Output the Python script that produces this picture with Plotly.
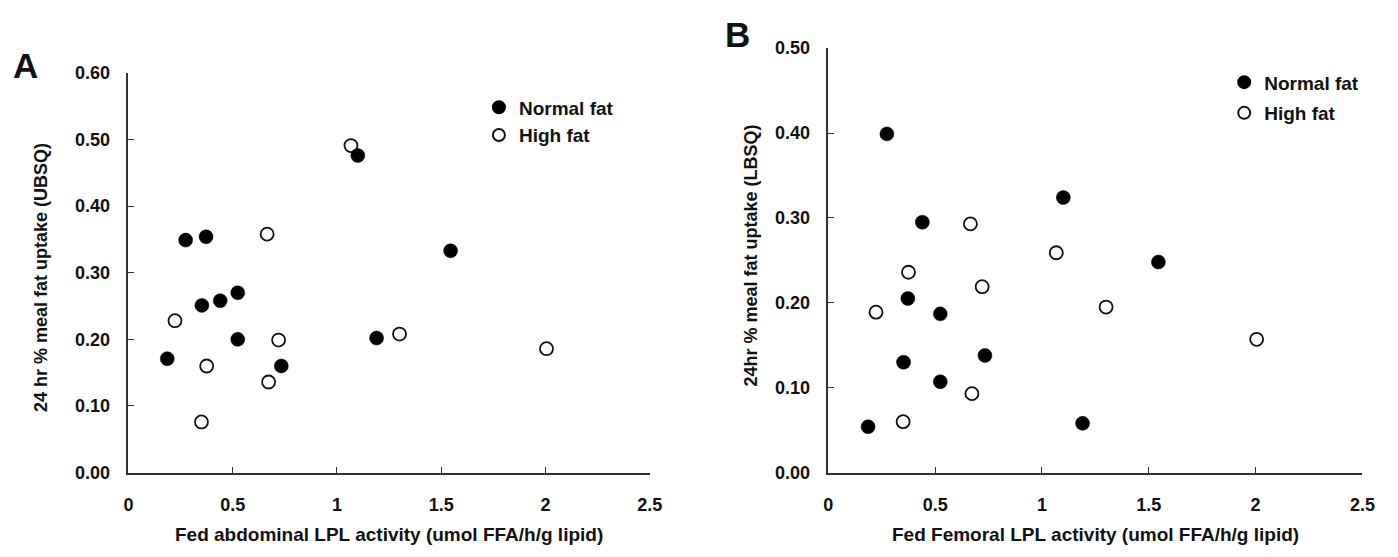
import plotly.graph_objects as go

W, H = 1398, 557
OFF = 8  # default page margin of the written html

# Fed LPL activity (x positions as plotted; identical in both panels)
lpl_normal = [0.186, 0.274, 0.352, 0.372, 0.44, 0.524, 0.524, 0.733, 1.10, 1.19, 1.545]
lpl_high = [0.223, 0.35, 0.375, 0.665, 0.672, 0.72, 1.067, 1.30, 2.005]

# Panel A: 24 hr % meal fat uptake (UBSQ)
ubsq_normal = [0.171, 0.349, 0.251, 0.354, 0.258, 0.270, 0.200, 0.160, 0.476, 0.202, 0.333]
ubsq_high = [0.228, 0.076, 0.160, 0.358, 0.136, 0.199, 0.491, 0.208, 0.186]

# Panel B: 24hr % meal fat uptake (LBSQ)
lbsq_normal = [0.054, 0.399, 0.130, 0.205, 0.295, 0.187, 0.107, 0.138, 0.324, 0.058, 0.248]
lbsq_high = [0.189, 0.060, 0.236, 0.293, 0.093, 0.219, 0.259, 0.195, 0.157]

x_ticks = [0, 0.5, 1, 1.5, 2, 2.5]
x_ticklabels = ["0", "0.5", "1", "1.5", "2", "2.5"]

FONT = "Liberation Sans"
INK = "#111111"
AX = "#333333"


def px(x):
    return (x - OFF) / W


def py(y):
    return 1 - (y - OFF) / H


open_marker = dict(symbol="circle", size=13, color="white", line=dict(color=INK, width=1.8))
fill_marker = dict(symbol="circle", size=14, color="#000000", line=dict(color="#000000", width=0.5))

fig = go.Figure()
fig.add_trace(go.Scatter(x=lpl_high, y=ubsq_high, mode="markers", name="High fat",
                         marker=open_marker, xaxis="x", yaxis="y", legend="legend",
                         legendgroup="a_high", legendrank=2))
fig.add_trace(go.Scatter(x=lpl_normal, y=ubsq_normal, mode="markers", name="Normal fat",
                         marker=fill_marker, xaxis="x", yaxis="y", legend="legend",
                         legendgroup="a_norm", legendrank=1))
fig.add_trace(go.Scatter(x=lpl_high, y=lbsq_high, mode="markers", name="High fat",
                         marker=open_marker, xaxis="x2", yaxis="y2", legend="legend2",
                         legendgroup="b_high", legendrank=2))
fig.add_trace(go.Scatter(x=lpl_normal, y=lbsq_normal, mode="markers", name="Normal fat",
                         marker=fill_marker, xaxis="x2", yaxis="y2", legend="legend2",
                         legendgroup="b_norm", legendrank=1))

tickfont = dict(family=FONT, size=18, color=INK, weight="bold")
common_x = dict(range=[0, 2.5], tickvals=x_ticks, ticktext=x_ticklabels, showline=True,
                linecolor=AX, linewidth=1.6, ticks="inside", ticklen=6, tickwidth=1.4,
                tickcolor=AX, showgrid=False, zeroline=False, tickfont=tickfont,
                ticklabelstandoff=15, fixedrange=True)
common_y = dict(showline=True, linecolor=AX, linewidth=1.6, ticks="inside", ticklen=6,
                tickwidth=1.4, tickcolor=AX, showgrid=False, zeroline=False,
                tickfont=tickfont, tickformat=".2f", dtick=0.1, tick0=0,
                ticklabelstandoff=13, fixedrange=True)

legend_font = dict(family=FONT, size=19, color=INK, weight="bold")

fig.update_layout(
    width=W, height=H,
    margin=dict(l=0, r=0, t=0, b=0),
    paper_bgcolor="white", plot_bgcolor="white",
    font=dict(family=FONT, color=INK, weight="bold"),
    xaxis=dict(domain=[px(125), px(653)], anchor="y", **common_x),
    yaxis=dict(domain=[py(479.5), py(65)], anchor="x", range=[0, 0.6], **common_y),
    xaxis2=dict(domain=[px(834), px(1375)], anchor="y2", **common_x),
    yaxis2=dict(domain=[py(479.5), py(39.3)], anchor="x2", range=[0, 0.5], **common_y),
    legend=dict(x=px(480), y=py(81), xanchor="left", yanchor="top", font=legend_font,
                bgcolor="rgba(0,0,0,0)", itemsizing="constant", tracegroupgap=0),
    legend2=dict(x=px(1235), y=py(55), xanchor="left", yanchor="top", font=legend_font,
                 bgcolor="rgba(0,0,0,0)", itemsizing="constant", tracegroupgap=3),
    showlegend=True,
)

ann = [
    dict(text="A", x=px(21), y=py(57), size=35),
    dict(text="B", x=px(742), y=py(25), size=35),
    dict(text="Fed abdominal LPL activity (umol FFA/h/g lipid)", x=px(389), y=py(544), size=19),
    dict(text="Fed Femoral LPL activity (umol FFA/h/g lipid)", x=px(1105), y=py(544), size=19),
]
for a in ann:
    fig.add_annotation(text=a["text"], x=a["x"], y=a["y"], xref="paper", yref="paper",
                       xanchor="center", yanchor="middle", showarrow=False,
                       font=dict(family=FONT, size=a["size"], color=INK, weight="bold"))

fig.add_annotation(text="24 hr % meal fat uptake (UBSQ)", x=px(37), y=py(277),
                   xref="paper", yref="paper", xanchor="center", yanchor="middle",
                   textangle=-90, showarrow=False,
                   font=dict(family=FONT, size=18, color=INK, weight="bold"))
fig.add_annotation(text="24hr % meal fat uptake (LBSQ)", x=px(756), y=py(254),
                   xref="paper", yref="paper", xanchor="center", yanchor="middle",
                   textangle=-90, showarrow=False,
                   font=dict(family=FONT, size=18, color=INK, weight="bold"))

fig.write_html("out.html")
